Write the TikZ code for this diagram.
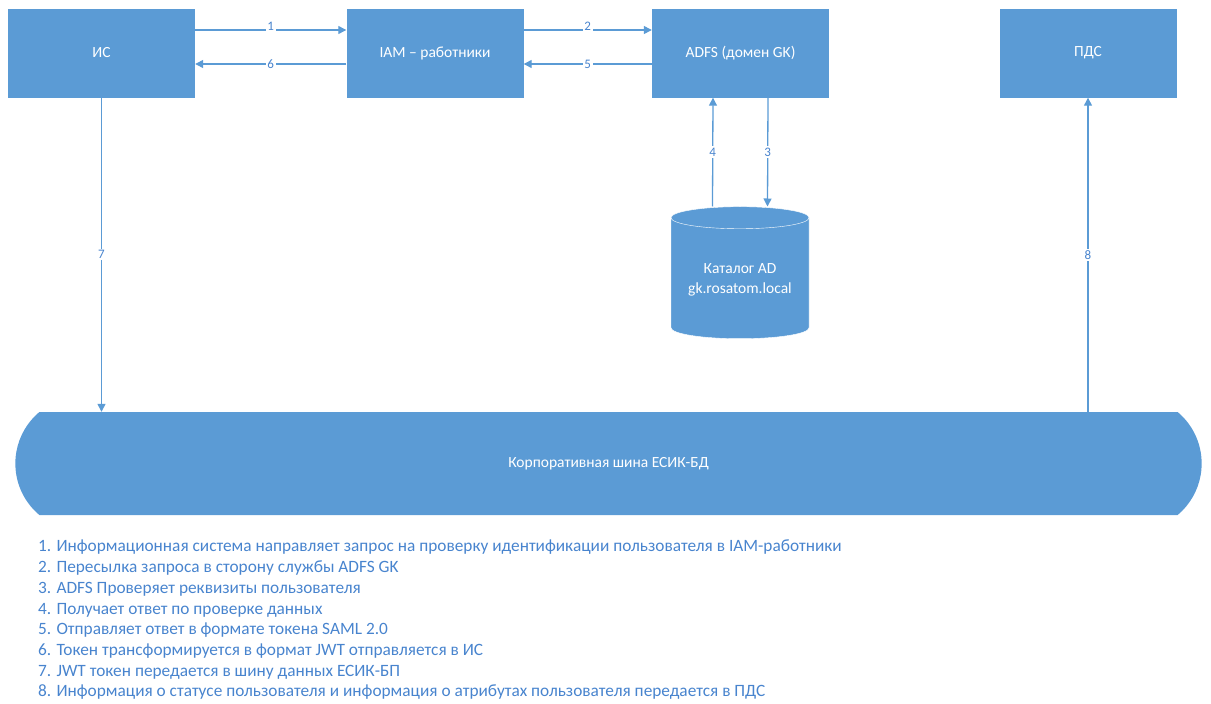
\documentclass[tikz,border=0pt]{standalone}
\usepackage{fontspec}
\setmainfont{Carlito}
\usetikzlibrary{positioning, arrows.meta, shapes.geometric, shapes.misc}
\definecolor{boxcol}{RGB}{91,155,213}
\definecolor{textcol}{RGB}{72,132,206}

\begin{document}
\begin{tikzpicture}[
			x=1pt,
			y=-1pt,
			system/.style={
				rectangle,
				fill=boxcol,
				minimum width=177,
				minimum height=89,
				text=white,
				font=\fontsize{15.5}{18}\selectfont
			},
			store/.style={
				cylinder,
				shape border rotate=90,
				aspect=0.2,
				fill=boxcol,
				draw=white,
				minimum width=138,
				minimum height=132,
				text=white,
				align=center,
				font=\fontsize{15.5}{20}\selectfont
			},
			bus/.style={
				rounded rectangle,
				rounded rectangle arc length=100,
				fill=boxcol,
				minimum width=1193,
				minimum height=103,
				text=white,
				font=\fontsize{15.5}{18}\selectfont
			},
			flow/.style={
				draw=boxcol,
				-{Triangle[length=8pt,width=8pt]},
				line width=1.3pt
			},
			num/.style={
				fill=white,
				text=textcol,
				inner sep=1.5pt,
				font=\fontsize{13}{14}\selectfont
			}
			]
			\useasboundingbox (0,0) rectangle (1211,704);
			
			% Systems
			\node[system, minimum width=187] (is) at (101.5,53) {ИС};
			\node[system] (iam) at (435,53) {IAM – работники};
			\node[system] (adfs) at (740.5,53) {ADFS (домен GK)};
			\node[system] (pds) at (1088,53) {ПДС};
			\node[store] (ad) at (740,280) {Каталог AD\\gk.rosatom.local};
			\node[bus] (esik) at (608.5,463.5) {Корпоративная шина ЕСИК-БД};
			
			% Flows
			\draw[flow] ([yshift=23pt]is.east) -- node[num, yshift=4pt] {1} ([yshift=23pt]iam.west);
			\draw[flow] ([yshift=23pt]iam.east) -- node[num, yshift=4pt] {2} ([yshift=23pt]adfs.west);
			\draw[flow] ([xshift=27.5pt]adfs.south) -- node[num] {3} ([xshift=27.5pt]ad.north);
			\draw[flow] ([xshift=-27.5pt]ad.north) -- node[num] {4} ([xshift=-27.5pt]adfs.south);
			\draw[flow] ([yshift=-11pt]adfs.west) -- node[num] {5} ([yshift=-11pt]iam.east);
			\draw[flow] ([yshift=-11pt]iam.west) -- node[num] {6} ([yshift=-11pt]is.east);
			\draw[flow] (is.south) -- node[num] {7} (is.south |- esik.north);
			\draw[flow] (pds.south |- esik.north) -- node[num] {8} (pds.south);
			
			% Legend
			\node[anchor=north west, align=left, text=textcol, inner sep=0pt,
				font=\fontsize{17.3}{20.7}\selectfont] (legend) at (38,540) {%
				1. Информационная система направляет запрос на проверку идентификации пользователя в IAM-работники\\
				2. Пересылка запроса в сторону службы ADFS GK\\
				3. ADFS Проверяет реквизиты пользователя\\
				4. Получает ответ по проверке данных\\
				5. Отправляет ответ в формате токена SAML 2.0\\
				6. Токен трансформируется в формат JWT отправляется в ИС\\
				7. JWT токен передается в шину данных ЕСИК-БП\\
				8. Информация о статусе пользователя и информация о атрибутах пользователя передается в ПДС};
		\end{tikzpicture}
\end{document}
